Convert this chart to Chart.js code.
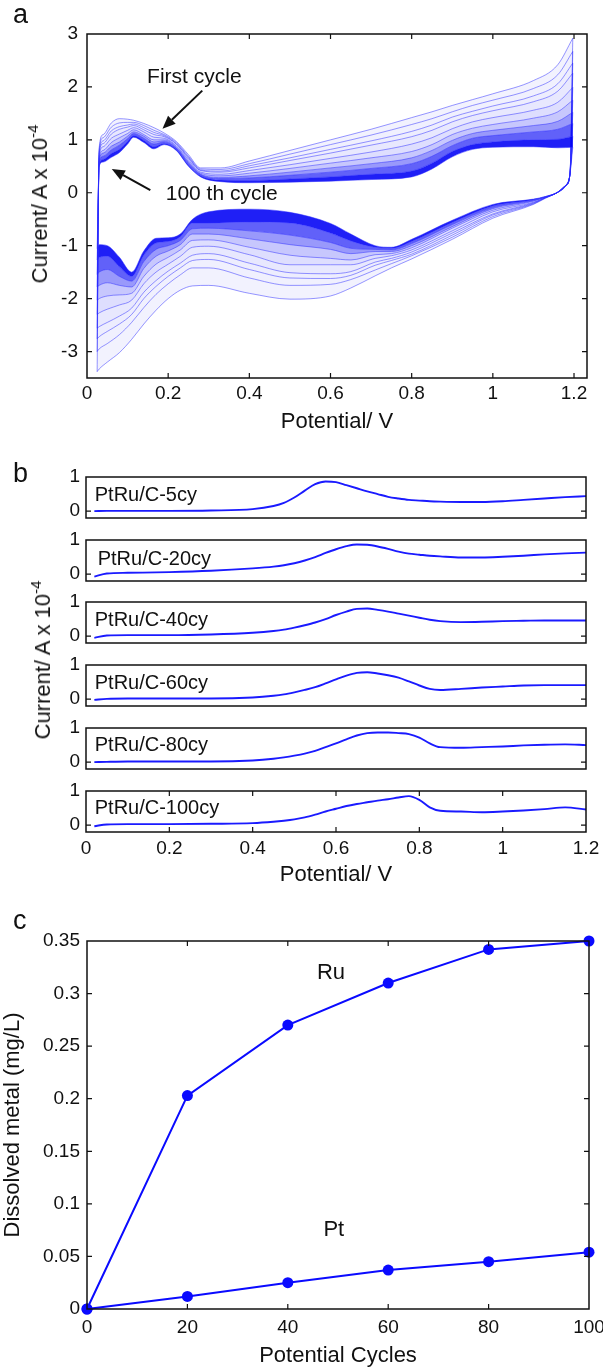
<!DOCTYPE html>
<html>
<head>
<meta charset="utf-8">
<title>PtRu/C potential cycling</title>
<script src="https://cdn.jsdelivr.net/npm/chart.js@4.4.1/dist/chart.umd.min.js"></script>
<style>
  html, body { margin: 0; padding: 0; background: #fff; }
  body { position: relative; width: 603px; height: 1369px; overflow: hidden;
         font-family: "Liberation Sans", Arial, sans-serif; color: #111; }
  canvas { position: absolute; left: 0; }
  .tag { position: absolute; font-size: 27px; line-height: 1; z-index: 2; }
  .ylab { position: absolute; font-size: 22px; line-height: 1; white-space: nowrap; z-index: 2;
          transform: translate(-50%, -50%) rotate(-90deg); }
  .ylab sup { font-size: 15px; line-height: 0; vertical-align: 9px; }
</style>
</head>
<body>
<canvas id="cvA" width="603" height="436" style="top:0"></canvas>
<canvas id="cvB0" width="603" height="65" style="top:465px"></canvas>
<canvas id="cvB1" width="603" height="65" style="top:528px"></canvas>
<canvas id="cvB2" width="603" height="65" style="top:590px"></canvas>
<canvas id="cvB3" width="603" height="65" style="top:653px"></canvas>
<canvas id="cvB4" width="603" height="65" style="top:716px"></canvas>
<canvas id="cvB5" width="603" height="109" style="top:779px"></canvas>
<canvas id="cvC" width="603" height="464" style="top:905px"></canvas>

<div class="tag" style="left:13px;top:1px">a</div>
<div class="tag" style="left:13px;top:460px">b</div>
<div class="tag" style="left:13px;top:907px">c</div>
<div class="ylab" style="left:40px;top:204px">Current/ A x 10<sup>-4</sup></div>
<div class="ylab" style="left:43px;top:660px">Current/ A x 10<sup>-4</sup></div>

<script>
// ---- panel a : CV curves over 100 cycles (current in 1e-4 A) ----
const anodicV   = [0.025, 0.03, 0.04, 0.06, 0.08, 0.1, 0.115, 0.14, 0.165, 0.19, 0.22, 0.25, 0.28, 0.33, 0.4, 0.5, 0.6, 0.7, 0.8, 0.85, 0.9, 0.95, 1.0, 1.1, 1.16, 1.197];
const cathodicV = [0.025, 0.03, 0.05, 0.08, 0.11, 0.14, 0.17, 0.2, 0.23, 0.26, 0.3, 0.4, 0.5, 0.6, 0.65, 0.71, 0.75, 0.8, 0.9, 1.0, 1.1, 1.13, 1.16, 1.18, 1.19, 1.197];
const cycleNos  = [1, 2, 3, 4, 6, 9, 14, 22, 40, 100];

const anodic1   = [-3.38, 0.85, 1.1, 1.32, 1.40, 1.39, 1.37, 1.31, 1.23, 1.13, 0.97, 0.72, 0.47, 0.47, 0.6, 0.8, 1.0, 1.2, 1.42, 1.53, 1.65, 1.76, 1.87, 2.12, 2.42, 2.92];
const anodic2   = [-3.0, 0.81, 1.04, 1.24, 1.32, 1.33, 1.33, 1.27, 1.18, 1.10, 0.95, 0.69, 0.45, 0.44, 0.55, 0.73, 0.91, 1.09, 1.29, 1.4, 1.53, 1.65, 1.75, 1.97, 2.23, 2.67];
const anodic3   = [-2.76, 0.77, 0.98, 1.17, 1.25, 1.28, 1.3, 1.23, 1.14, 1.08, 0.93, 0.67, 0.43, 0.41, 0.51, 0.66, 0.82, 0.98, 1.16, 1.28, 1.43, 1.54, 1.64, 1.83, 2.06, 2.45];
const anodic4   = [-2.56, 0.74, 0.93, 1.11, 1.2, 1.24, 1.27, 1.19, 1.1, 1.06, 0.92, 0.65, 0.42, 0.39, 0.47, 0.61, 0.75, 0.9, 1.06, 1.18, 1.34, 1.46, 1.55, 1.72, 1.92, 2.26];
const anodic6   = [-2.3, 0.69, 0.87, 1.03, 1.11, 1.18, 1.23, 1.15, 1.05, 1.03, 0.89, 0.62, 0.39, 0.35, 0.42, 0.53, 0.65, 0.77, 0.92, 1.04, 1.21, 1.34, 1.42, 1.56, 1.71, 1.99];
const anodic9   = [-2.03, 0.65, 0.8, 0.95, 1.04, 1.12, 1.19, 1.1, 1.0, 1.0, 0.87, 0.59, 0.37, 0.32, 0.37, 0.46, 0.56, 0.66, 0.78, 0.91, 1.1, 1.22, 1.29, 1.41, 1.53, 1.75];
const anodic14  = [-1.78, 0.61, 0.75, 0.88, 0.96, 1.07, 1.15, 1.07, 0.96, 0.98, 0.85, 0.57, 0.35, 0.29, 0.32, 0.39, 0.47, 0.55, 0.66, 0.8, 0.99, 1.12, 1.18, 1.27, 1.35, 1.52];
const anodic22  = [-1.54, 0.58, 0.69, 0.81, 0.9, 1.02, 1.12, 1.03, 0.92, 0.96, 0.84, 0.55, 0.34, 0.27, 0.28, 0.33, 0.39, 0.46, 0.55, 0.69, 0.89, 1.03, 1.08, 1.15, 1.2, 1.31];
const anodic40  = [-1.27, 0.54, 0.63, 0.74, 0.82, 0.97, 1.08, 0.99, 0.87, 0.93, 0.82, 0.52, 0.32, 0.24, 0.23, 0.26, 0.3, 0.35, 0.41, 0.56, 0.78, 0.91, 0.96, 1.0, 1.01, 1.07];
const anodic100 = [-1.05, 0.5, 0.58, 0.67, 0.76, 0.92, 1.05, 0.95, 0.83, 0.91, 0.8, 0.5, 0.3, 0.21, 0.19, 0.2, 0.22, 0.25, 0.3, 0.45, 0.68, 0.82, 0.86, 0.87, 0.85, 0.86];

const cathodic1   = [-3.38, -3.33, -3.2, -3.02, -2.77, -2.48, -2.22, -2.0, -1.84, -1.76, -1.75, -1.9, -2.01, -1.95, -1.8, -1.57, -1.42, -1.25, -0.88, -0.48, -0.22, -0.1, 0.01, 0.14, 0.35, 2.92];
const cathodic2   = [-3.0, -2.95, -2.85, -2.68, -2.45, -2.17, -1.92, -1.72, -1.55, -1.42, -1.42, -1.61, -1.75, -1.73, -1.64, -1.46, -1.34, -1.19, -0.84, -0.45, -0.21, -0.1, 0.01, 0.14, 0.35, 2.67];
const cathodic3   = [-2.76, -2.72, -2.62, -2.48, -2.3, -2.0, -1.77, -1.58, -1.42, -1.28, -1.26, -1.45, -1.61, -1.62, -1.56, -1.37, -1.28, -1.16, -0.8, -0.42, -0.2, -0.09, 0.01, 0.14, 0.35, 2.45];
const cathodic4   = [-2.56, -2.53, -2.45, -2.33, -2.18, -1.88, -1.66, -1.48, -1.33, -1.18, -1.15, -1.33, -1.51, -1.53, -1.49, -1.31, -1.24, -1.12, -0.76, -0.4, -0.19, -0.09, 0.01, 0.14, 0.35, 2.26];
const cathodic6   = [-2.3, -2.27, -2.2, -2.12, -2.03, -1.72, -1.5, -1.35, -1.2, -1.03, -1.01, -1.17, -1.36, -1.36, -1.36, -1.24, -1.19, -1.08, -0.72, -0.36, -0.18, -0.09, 0.01, 0.14, 0.35, 1.99];
const cathodic9   = [-2.03, -2.0, -1.95, -1.93, -1.9, -1.58, -1.35, -1.22, -1.08, -0.9, -0.89, -1.03, -1.18, -1.24, -1.27, -1.17, -1.15, -1.04, -0.67, -0.33, -0.16, -0.08, 0.01, 0.14, 0.35, 1.75];
const cathodic14  = [-1.78, -1.75, -1.7, -1.75, -1.78, -1.43, -1.2, -1.1, -0.98, -0.78, -0.78, -0.87, -0.98, -1.07, -1.15, -1.11, -1.11, -1.0, -0.64, -0.3, -0.15, -0.08, 0.01, 0.14, 0.35, 1.52];
const cathodic22  = [-1.54, -1.5, -1.45, -1.58, -1.67, -1.3, -1.07, -1.0, -0.9, -0.68, -0.67, -0.72, -0.8, -0.94, -1.05, -1.07, -1.08, -0.96, -0.6, -0.28, -0.14, -0.08, 0.01, 0.14, 0.35, 1.31];
const cathodic40  = [-1.27, -1.22, -1.2, -1.4, -1.58, -1.18, -0.95, -0.92, -0.83, -0.57, -0.57, -0.55, -0.57, -0.76, -0.91, -1.03, -1.05, -0.92, -0.56, -0.25, -0.13, -0.07, 0.01, 0.14, 0.35, 1.07];
const cathodic100 = [-1.05, -0.98, -1.0, -1.22, -1.5, -1.1, -0.86, -0.85, -0.78, -0.5, -0.36, -0.31, -0.37, -0.58, -0.78, -1.0, -1.03, -0.88, -0.52, -0.22, -0.12, -0.07, 0.01, 0.14, 0.35, 0.86];

// ---- panel b : anodic scans after n cycles ----
const potB   = [0.02, 0.05, 0.1, 0.2, 0.3, 0.4, 0.45, 0.475, 0.5, 0.525, 0.55, 0.575, 0.6, 0.625, 0.65, 0.675, 0.7, 0.725, 0.75, 0.775, 0.8, 0.825, 0.85, 0.9, 0.95, 1.0, 1.05, 1.1, 1.15, 1.2];
const cy5    = [0.0, 0.01, 0.01, 0.01, 0.02, 0.06, 0.15, 0.24, 0.4, 0.6, 0.79, 0.87, 0.85, 0.76, 0.67, 0.58, 0.5, 0.42, 0.37, 0.33, 0.31, 0.29, 0.28, 0.27, 0.27, 0.29, 0.33, 0.37, 0.41, 0.44];
const cy20   = [-0.07, 0.02, 0.04, 0.06, 0.1, 0.17, 0.22, 0.26, 0.32, 0.4, 0.5, 0.62, 0.73, 0.82, 0.87, 0.86, 0.81, 0.74, 0.66, 0.6, 0.57, 0.54, 0.52, 0.49, 0.49, 0.51, 0.54, 0.58, 0.61, 0.63];
const cy40   = [-0.05, 0.02, 0.03, 0.03, 0.05, 0.1, 0.15, 0.19, 0.25, 0.32, 0.4, 0.5, 0.62, 0.72, 0.8, 0.81, 0.77, 0.72, 0.66, 0.6, 0.54, 0.48, 0.44, 0.41, 0.42, 0.44, 0.45, 0.46, 0.46, 0.46];
const cy60   = [-0.02, 0.01, 0.02, 0.02, 0.02, 0.05, 0.1, 0.14, 0.2, 0.27, 0.35, 0.46, 0.58, 0.69, 0.77, 0.79, 0.75, 0.7, 0.63, 0.52, 0.4, 0.3, 0.27, 0.3, 0.34, 0.37, 0.4, 0.41, 0.41, 0.41];
const cy80   = [0.0, 0.01, 0.02, 0.02, 0.02, 0.05, 0.1, 0.14, 0.19, 0.25, 0.33, 0.44, 0.55, 0.67, 0.78, 0.85, 0.87, 0.87, 0.85, 0.82, 0.72, 0.55, 0.44, 0.42, 0.44, 0.46, 0.49, 0.51, 0.52, 0.5];
const cy100  = [-0.03, 0.02, 0.03, 0.03, 0.04, 0.06, 0.1, 0.13, 0.17, 0.23, 0.31, 0.4, 0.48, 0.56, 0.62, 0.67, 0.72, 0.76, 0.81, 0.85, 0.74, 0.52, 0.42, 0.4, 0.38, 0.4, 0.43, 0.47, 0.52, 0.46];
const labelsB = ['PtRu/C-5cy', 'PtRu/C-20cy', 'PtRu/C-40cy', 'PtRu/C-60cy', 'PtRu/C-80cy', 'PtRu/C-100cy'];

// ---- panel c : dissolved metal ----
const cyclesC = [0, 20, 40, 60, 80, 100];
const ruMgL   = [0, 0.203, 0.270, 0.310, 0.342, 0.350];
const ptMgL   = [0, 0.012, 0.025, 0.037, 0.045, 0.054];

// tick values
const ticksPot  = [0, 0.2, 0.4, 0.6, 0.8, 1, 1.2];
const ticksAy   = [-3, -2, -1, 0, 1, 2, 3];
const ticksBy   = [0, 1];
const ticksCx   = [0, 20, 40, 60, 80, 100];
const ticksCy   = [0, 0.05, 0.1, 0.15, 0.2, 0.25, 0.3, 0.35];

Chart.defaults.font.family = '"Liberation Sans", Arial, sans-serif';
Chart.defaults.color = '#111';

const FONT = '"Liberation Sans", Arial, sans-serif';

// box around plot area + inward ticks (matlab look)
const frame = {
  id: 'frame',
  afterDatasetsDraw(chart, args, opts) {
    const {ctx, chartArea: a, scales} = chart;
    ctx.save();
    ctx.strokeStyle = '#111';
    ctx.lineWidth = 1.2;
    ctx.beginPath();
    if (opts.xTicks) {
      scales.x.ticks.forEach(t => {
        const p = scales.x.getPixelForValue(t.value);
        if (p < a.left + 2 || p > a.right - 2) return;
        ctx.moveTo(p, a.bottom); ctx.lineTo(p, a.bottom - 5);
        ctx.moveTo(p, a.top); ctx.lineTo(p, a.top + 5);
      });
    }
    scales.y.ticks.forEach(t => {
      const p = scales.y.getPixelForValue(t.value);
      if (p < a.top + 2 || p > a.bottom - 2) return;
      ctx.moveTo(a.left, p); ctx.lineTo(a.left + 5, p);
      ctx.moveTo(a.right, p); ctx.lineTo(a.right - 5, p);
    });
    ctx.stroke();
    ctx.lineWidth = 1.5;
    ctx.strokeRect(a.left, a.top, a.right - a.left, a.bottom - a.top);
    ctx.restore();
  }
};

// text labels and arrows placed in data coordinates
const notes = {
  id: 'notes',
  afterDatasetsDraw(chart, args, opts) {
    const {ctx, scales: {x, y}} = chart;
    ctx.save();
    ctx.fillStyle = '#111';
    ctx.strokeStyle = '#111';
    (opts.texts || []).forEach(t => {
      ctx.font = t.size + 'px ' + FONT;
      ctx.textAlign = 'left';
      ctx.textBaseline = 'middle';
      ctx.fillText(t.text, x.getPixelForValue(t.x), y.getPixelForValue(t.y));
    });
    (opts.arrows || []).forEach(ar => {
      const x0 = x.getPixelForValue(ar.from[0]), y0 = y.getPixelForValue(ar.from[1]);
      const x1 = x.getPixelForValue(ar.to[0]), y1 = y.getPixelForValue(ar.to[1]);
      const ang = Math.atan2(y1 - y0, x1 - x0), hl = 13, hw = 5.5;
      const bx = x1 - hl * Math.cos(ang), by = y1 - hl * Math.sin(ang);
      ctx.lineWidth = 2;
      ctx.beginPath(); ctx.moveTo(x0, y0); ctx.lineTo(bx, by); ctx.stroke();
      ctx.beginPath();
      ctx.moveTo(x1, y1);
      ctx.lineTo(bx + hw * Math.sin(ang), by - hw * Math.cos(ang));
      ctx.lineTo(bx - hw * Math.sin(ang), by + hw * Math.cos(ang));
      ctx.closePath(); ctx.fill();
    });
    ctx.restore();
  }
};

function axis(o) {
  return {
    type: 'linear', min: o.min, max: o.max,
    display: o.display !== false,
    grid: {display: false, drawTicks: false},
    border: {display: false},
    afterBuildTicks: s => { s.ticks = o.ticks.map(v => ({value: v})); },
    afterFit: s => {
      if (o.size != null) {
        if (s.isHorizontal()) s.height = o.size; else s.width = o.size;
      }
      s.paddingLeft = s.paddingRight = s.paddingTop = s.paddingBottom = 0;
    },
    ticks: {padding: o.pad, font: {size: 19}, autoSkip: false, maxRotation: 0, callback: v => String(v)},
    title: o.title ? {display: true, text: o.title, font: {size: 22}, padding: {top: 0, bottom: o.titlePad || 0}} : {display: false}
  };
}

function baseOpts(padding, scales, plug) {
  return {
    responsive: false, animation: false, events: [],
    layout: {padding: padding},
    plugins: Object.assign({legend: {display: false}, tooltip: {enabled: false}}, plug),
    scales: scales
  };
}

function pts(xs, ys) { return xs.map((v, i) => ({x: v, y: ys[i]})); }

// ---------- panel a ----------
const anodicSweeps   = [anodic1, anodic2, anodic3, anodic4, anodic6, anodic9, anodic14, anodic22, anodic40, anodic100];
const cathodicSweeps = [cathodic1, cathodic2, cathodic3, cathodic4, cathodic6, cathodic9, cathodic14, cathodic22, cathodic40, cathodic100];
// how dark the packed band is between a curve and the one before it
const bandShade = {2: 0.05, 3: 0.06, 4: 0.07, 6: 0.09, 9: 0.13, 14: 0.22, 22: 0.4, 40: 0.62, 100: 0.88};

function cvSet(vs, is, cyc) {
  const a = bandShade[cyc] || 0;
  return {
    data: pts(vs, is),
    borderColor: 'rgba(40,40,255,0.62)',
    borderWidth: 0.8,
    pointRadius: 0,
    cubicInterpolationMode: 'monotone',
    fill: a ? '-1' : false,
    backgroundColor: 'rgba(0,0,245,' + a + ')'
  };
}

const cvSets = [];
cycleNos.forEach((c, i) => cvSets.push(cvSet(anodicV, anodicSweeps[i], c)));
cycleNos.forEach((c, i) => cvSets.push(cvSet(cathodicV, cathodicSweeps[i], c)));

new Chart(document.getElementById('cvA'), {
  type: 'line',
  data: {datasets: cvSets},
  options: baseOpts({top: 34, right: 16, left: 0, bottom: 0}, {
    x: axis({min: 0, max: 1.232, ticks: ticksPot, size: 58, pad: 4, title: 'Potential/ V', titlePad: 1}),
    y: axis({min: -3.5, max: 3, ticks: ticksAy, size: 87, pad: 9})
  }, {
    frame: {xTicks: true},
    notes: {
      texts: [
        {x: 0.148, y: 2.18, text: 'First cycle', size: 21},
        {x: 0.194, y: -0.03, text: '100 th cycle', size: 21}
      ],
      arrows: [
        {from: [0.284, 1.93], to: [0.186, 1.21]},
        {from: [0.156, 0.05], to: [0.061, 0.45]}
      ]
    }
  }),
  plugins: [frame, notes]
});

// ---------- panel b ----------
const seriesB = [cy5, cy20, cy40, cy60, cy80, cy100];
const labelY  = [0.47, 0.42, 0.47, 0.47, 0.5, 0.5];
seriesB.forEach((ys, k) => {
  const last = k === seriesB.length - 1;
  new Chart(document.getElementById('cvB' + k), {
    type: 'line',
    data: {datasets: [{
      data: pts(potB, ys),
      borderColor: '#1a1aff', borderWidth: 1.9, pointRadius: 0,
      cubicInterpolationMode: 'monotone', fill: false
    }]},
    options: baseOpts({top: 12, right: 17, left: 0, bottom: last ? 0 : 12}, {
      x: last ? axis({min: 0, max: 1.2, ticks: ticksPot, size: 56, pad: 5, title: 'Potential/ V'})
              : axis({min: 0, max: 1.2, ticks: ticksPot, display: false}),
      y: axis({min: -0.2, max: 1, ticks: ticksBy, size: 86, pad: 6})
    }, {
      frame: {xTicks: last},
      notes: {texts: [{x: k === 1 ? 0.028 : 0.021, y: labelY[k], text: labelsB[k], size: 20}]}
    }),
    plugins: [frame, notes]
  });
});

// ---------- panel c ----------
const lineC = (ys) => ({
  data: pts(cyclesC, ys),
  borderColor: '#0a0aff', borderWidth: 2,
  pointRadius: 5.5, pointBackgroundColor: '#0a0aff', pointBorderWidth: 0,
  fill: false, tension: 0, clip: false
});

new Chart(document.getElementById('cvC'), {
  type: 'line',
  data: {datasets: [lineC(ruMgL), lineC(ptMgL)]},
  options: baseOpts({top: 36, right: 14, left: 0, bottom: 0}, {
    x: axis({min: 0, max: 100, ticks: ticksCx, size: 60, pad: 7, title: 'Potential Cycles'}),
    y: axis({min: 0, max: 0.35, ticks: ticksCy, size: 87, pad: 7, title: 'Dissolved metal (mg/L)'})
  }, {
    frame: {xTicks: true},
    notes: {texts: [
      {x: 45.8, y: 0.32, text: 'Ru', size: 22},
      {x: 47.1, y: 0.0753, text: 'Pt', size: 22}
    ]}
  }),
  plugins: [frame, notes]
});
</script>
</body>
</html>
